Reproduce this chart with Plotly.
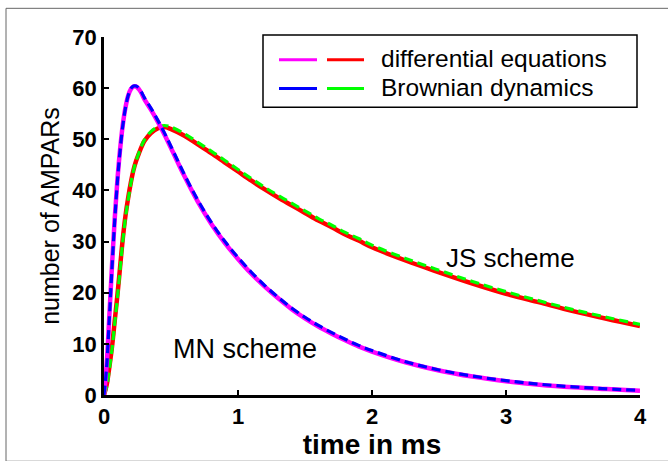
import plotly.graph_objects as go

# time grid (ms)
t = [0, 0.02, 0.04, 0.06, 0.08, 0.10, 0.12, 0.14, 0.16, 0.18, 0.20, 0.22, 0.24, 0.26,
     0.28, 0.30, 0.35, 0.40, 0.45, 0.50, 0.60, 0.70, 0.80, 0.90, 1.00, 1.10, 1.20, 1.30,
     1.40, 1.50, 1.60, 1.70, 1.80, 1.90, 2.00, 2.25, 2.50, 2.75, 3.00, 3.25, 3.50, 3.75, 4.00]

# MN scheme
mn_de = [0, 6.0, 15.5, 25.5, 34.5, 42.0, 48.0, 52.8, 56.2, 58.5, 59.8, 60.3, 60.3, 59.8,
         59.0, 57.9, 55.8, 53.5, 51.0, 48.3, 42.8, 37.8, 33.5, 29.8, 26.6, 23.7, 21.2, 18.9,
         16.8, 15.0, 13.4, 12.0, 10.7, 9.5, 8.5, 6.4, 4.8, 3.6, 2.7, 2.0, 1.5, 1.15, 0.85]
mn_bd = [0, 5.6, 15.0, 25.0, 34.1, 41.7, 47.8, 52.6, 56.1, 58.5, 59.9, 60.4, 60.4, 60.0,
         59.2, 58.2, 56.1, 53.8, 51.3, 48.6, 43.1, 38.1, 33.8, 30.1, 26.9, 24.0, 21.4, 19.1,
         17.0, 15.2, 13.6, 12.2, 10.9, 9.7, 8.7, 6.5, 4.9, 3.7, 2.8, 2.1, 1.6, 1.2, 0.9]

# JS scheme
js_de = [0, 2.0, 5.5, 9.5, 14.5, 19.5, 25.0, 30.5, 35.0, 38.5, 41.5, 44.0, 45.8, 47.2,
         48.5, 49.6, 51.2, 52.1, 52.4, 52.0, 50.7, 49.0, 47.3, 45.5, 43.7, 41.9, 40.2, 38.6,
         37.1, 35.6, 34.1, 32.8, 31.4, 30.2, 28.9, 26.3, 24.0, 21.8, 19.8, 18.1, 16.4, 14.9, 13.5]
js_bd = [0, 1.6, 5.0, 9.0, 14.0, 19.0, 24.5, 30.0, 34.6, 38.2, 41.3, 43.9, 45.8, 47.3,
         48.7, 49.8, 51.5, 52.4, 52.7, 52.4, 51.1, 49.4, 47.7, 45.9, 44.1, 42.3, 40.6, 39.0,
         37.5, 36.0, 34.5, 33.2, 31.8, 30.6, 29.3, 26.7, 24.4, 22.2, 20.2, 18.4, 16.7, 15.2, 13.8]

x_ticks = [0, 1, 2, 3, 4]
y_ticks = [0, 10, 20, 30, 40, 50, 60, 70]

legend_labels = ["differential equations", "Brownian dynamics"]
MAGENTA, RED, BLUE, GREEN = "#FF00FF", "#FF0000", "#0000FF", "#00FF00"

fig = go.Figure()
fig.add_trace(go.Scatter(x=t, y=js_de, mode="lines", line=dict(color=RED, width=4.5, shape="spline"),
                         showlegend=False))
fig.add_trace(go.Scatter(x=t, y=js_bd, mode="lines",
                         line=dict(color=GREEN, width=3.2, dash="9px,5px", shape="spline"),
                         showlegend=False))
fig.add_trace(go.Scatter(x=t, y=mn_de, mode="lines", line=dict(color=MAGENTA, width=4.5, shape="spline"),
                         showlegend=False))
fig.add_trace(go.Scatter(x=t, y=mn_bd, mode="lines",
                         line=dict(color=BLUE, width=3.2, dash="9px,5px", shape="spline"),
                         showlegend=False))

font = "Liberation Sans, Arial, sans-serif"

# plot area geometry in pixels
L, R, T, B = 104, 28, 37, 62
W, H = 668, 461
pw, ph = W - L - R, H - T - B

def px(xp):
    return (xp - L) / pw

def py(yp):
    return (H - B - yp) / ph

shapes = []
# outer frame
shapes.append(dict(type="rect", xref="paper", yref="paper",
                   x0=px(6), x1=px(672), y0=py(466), y1=py(8),
                   line=dict(color="#666666", width=1)))
# legend box
shapes.append(dict(type="rect", xref="paper", yref="paper",
                   x0=px(263), x1=px(637), y0=py(108), y1=py(35),
                   line=dict(color="black", width=1.5), fillcolor="white", layer="above"))
rows = [59, 88]
pairs = [(MAGENTA, RED), (BLUE, GREEN)]
for yrow, (c1, c2) in zip(rows, pairs):
    shapes.append(dict(type="line", xref="paper", yref="paper", x0=px(279), x1=px(317),
                       y0=py(yrow + 1), y1=py(yrow + 1), line=dict(color=c1, width=3), layer="above"))
    shapes.append(dict(type="line", xref="paper", yref="paper", x0=px(327), x1=px(364),
                       y0=py(yrow + 1), y1=py(yrow + 1), line=dict(color=c2, width=3), layer="above"))

annotations = []
for yrow, lab in zip(rows, legend_labels):
    annotations.append(dict(xref="paper", yref="paper", x=px(379), y=py(yrow), text=lab,
                            showarrow=False, xanchor="left", yanchor="middle",
                            font=dict(family=font, size=24.5, color="black")))
annotations.append(dict(xref="x", yref="y", x=1.05, y=8.9, text="MN scheme", showarrow=False,
                        xanchor="center", yanchor="middle",
                        font=dict(family=font, size=27, color="black")))
annotations.append(dict(xref="x", yref="y", x=3.03, y=26.7, text="JS scheme", showarrow=False,
                        xanchor="center", yanchor="middle",
                        font=dict(family=font, size=26, color="black")))

fig.update_layout(
    width=W, height=H,
    margin=dict(l=L, r=R, t=T, b=B),
    paper_bgcolor="white", plot_bgcolor="white",
    shapes=shapes, annotations=annotations,
    showlegend=False,
)
fig.update_xaxes(range=[0, 4], tickvals=x_ticks, ticktext=[str(v) for v in x_ticks],
                 showgrid=False, zeroline=False, showline=True, linecolor="black", linewidth=2.5,
                 ticks="inside", ticklen=5, tickwidth=2, tickcolor="black",
                 tickfont=dict(family=font, size=22, color="black", weight="bold"),
                 title=dict(text="<b>time in ms</b>", font=dict(family=font, size=28, color="black"),
                            standoff=0))
fig.update_yaxes(range=[0, 70], tickvals=y_ticks, ticktext=[str(v) for v in y_ticks],
                 showgrid=False, zeroline=False, showline=True, linecolor="black", linewidth=2.5,
                 ticks="inside", ticklen=5, tickwidth=2, tickcolor="black",
                 tickfont=dict(family=font, size=22, color="black", weight="bold"),
                 title=dict(text="number of AMPARs", font=dict(family=font, size=25, color="black"),
                            standoff=6))

fig.write_html("out.html")
